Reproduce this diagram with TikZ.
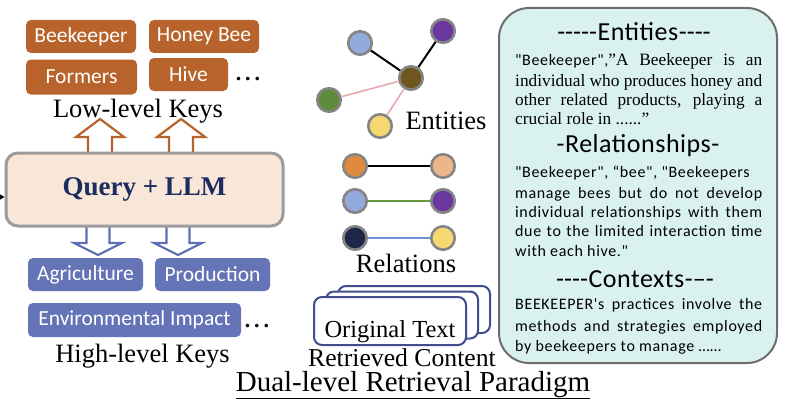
\documentclass[tikz,border=0pt]{standalone}
\usepackage{fontspec}
\setmainfont{Liberation Serif}
\newfontfamily\carl{Carlito}
\newfontfamily\carlsp[LetterSpace=4]{Carlito}
\newfontfamily\carlhd[LetterSpace=2]{Carlito}
\usetikzlibrary{arrows.meta}
\definecolor{rust}{HTML}{B8632B}
\definecolor{keyblue}{HTML}{6573B7}
\definecolor{arrblue}{HTML}{5E70B4}
\definecolor{qfill}{HTML}{F8E6D8}
\definecolor{qdraw}{HTML}{9B9B9B}
\definecolor{qtext}{HTML}{1C2C5E}
\definecolor{pfill}{HTML}{D9F1EF}
\definecolor{pdraw}{HTML}{6E6E6E}
\definecolor{paperb}{HTML}{3F4D8E}
\definecolor{ngray}{HTML}{858585}
\definecolor{clblue}{HTML}{93AADD}
\definecolor{cpurp}{HTML}{6A36A0}
\definecolor{cbrown}{HTML}{6F561F}
\definecolor{cgreen}{HTML}{5F8A3B}
\definecolor{cyel}{HTML}{F6D872}
\definecolor{corange}{HTML}{E08A3E}
\definecolor{cpeach}{HTML}{EDB68A}
\definecolor{cnavy}{HTML}{1F2748}
\definecolor{epink}{HTML}{E8A8AE}
\definecolor{egreen}{HTML}{6A9A3E}
\definecolor{eblue}{HTML}{6F91D8}
\newcommand\jl[1]{\makebox[247pt][s]{#1}}
\begin{document}
\begin{tikzpicture}[x=1pt,y=-1pt,
  okey/.style={fill=rust, rounded corners=5pt, text=white, inner sep=0pt,
    font=\carl\fontsize{21.5}{21.5}\selectfont, minimum height=33pt},
  bkey/.style={fill=keyblue, rounded corners=5pt, text=white, inner sep=0pt,
    font=\carl\fontsize{21.5}{21.5}\selectfont, minimum height=34pt},
  lbl/.style={anchor=base, inner sep=0pt, font=\fontsize{26.5}{26.5}\selectfont},
  dots/.style={anchor=base, inner sep=0pt, font=\bfseries\fontsize{22}{22}\selectfont},
  ent/.style={circle, draw=ngray, line width=2.6pt, minimum size=23.5pt, inner sep=0pt},
  uparr/.style={draw=rust, line width=2.2pt, fill=white, line join=miter},
  dnarr/.style={draw=arrblue, line width=2.2pt, fill=white, line join=miter},
  paper/.style={draw=paperb, line width=2pt, fill=white, rounded corners=8pt,
    minimum width=152pt, minimum height=47pt, inner sep=0pt},
  phead/.style={anchor=base, inner sep=0pt, font=\carlhd\fontsize{26}{26}\selectfont},
  ptext/.style={anchor=base west, inner sep=0pt, font=\carlsp\fontsize{16}{16}\selectfont},
  stext/.style={anchor=base west, inner sep=0pt, font=\fontsize{17.3}{17.3}\selectfont}
]
\useasboundingbox (0,0) rectangle (802,404);

% ---- block arrows
\foreach \c in {100,181} {
  \draw[uparr] (\c-12,152) -- (\c-12,137) -- (\c-24,137) -- (\c,119) -- (\c+24,137) -- (\c+12,137) -- (\c+12,152);
}
\foreach \c in {98,178} {
  \draw[dnarr] (\c-11.5,226) -- (\c-11.5,243) -- (\c-24,243) -- (\c,255) -- (\c+24,243) -- (\c+11.5,243) -- (\c+11.5,226);
}

% ---- Query box
\node[draw=qdraw, fill=qfill, line width=3pt, rounded corners=12pt,
      minimum width=277pt, minimum height=73pt, inner sep=0pt,
      text=qtext, font=\bfseries\fontsize{27}{27}\selectfont] (Q) at (144.5,189.5) {Query + LLM};
\coordinate (qin) at (-12,197);
\coordinate (qtip) at (4.5,197);
\draw[line width=1pt, -{Stealth[length=6pt,width=7pt]}] (qin) -- (qtip);

% ---- low-level keys
\node[okey, minimum width=110pt] (k1) at (81,36.5) {Beekeeper};
\node[okey, minimum width=110pt] (k2) at (204,36.5) {Honey Bee};
\node[okey, minimum width=111pt, minimum height=35pt] (k3) at (81.5,77) {Formers};
\node[okey, minimum width=79pt] (k4) at (188.5,74.5) {Hive};
\node[dots] (kd) at (248,80) {.\hspace{4pt}.\hspace{4pt}.};
\node[lbl] (ll) at (138,117) {Low-level Keys};

% ---- high-level keys
\node[bkey, minimum width=115pt, minimum height=33pt] (h1) at (85.5,274.5) {Agriculture};
\node[bkey, minimum width=115pt, minimum height=33pt] (h2) at (212.5,274.5) {Production};
\node[bkey, minimum width=213pt] (h3) at (134.5,320) {Environmental Impact};
\node[dots] (hd) at (257,327) {.\hspace{4pt}.\hspace{4pt}.};
\node[lbl] (hl) at (142.5,362) {High-level Keys};

% ---- entities graph
\node[ent, fill=cbrown] (g0) at (411,78) {};
\node[ent, fill=clblue] (g1) at (360,43) {};
\node[ent, fill=cpurp] (g2) at (443,31) {};
\node[ent, fill=cgreen] (g3) at (329,100) {};
\node[ent, fill=cyel] (g4) at (380,126) {};
\draw[line width=2pt] (g1) -- (g0);
\draw[line width=2pt] (g2) -- (g0);
\draw[line width=1.6pt, epink] (g0) -- (g3);
\draw[line width=1.6pt, epink] (g0) -- (g4);
\node[lbl] (el) at (446,129) {Entities};

% ---- relations
\node[ent, fill=corange] (r1a) at (355,166) {};
\node[ent, fill=cpeach] (r1b) at (443,166) {};
\node[ent, fill=clblue] (r2a) at (355,201) {};
\node[ent, fill=cpurp] (r2b) at (443,201) {};
\node[ent, fill=cnavy] (r3a) at (355,238) {};
\node[ent, fill=cyel] (r3b) at (443,238) {};
\draw[line width=2pt] (r1a) -- (r1b);
\draw[line width=2.2pt, egreen] (r2a) -- (r2b);
\draw[line width=2.2pt, eblue] (r3a) -- (r3b);
\node[lbl] (rl) at (406,272) {Relations};

% ---- original text stack
\node[paper] (p3) at (414,309.5) {};
\node[paper] (p2) at (402,315) {};
\node[paper, minimum height=48pt] (p1) at (390,321) {};
\node[lbl, font=\fontsize{24.5}{24.5}\selectfont] (ot) at (390,337) {Original Text};
\node[lbl, font=\fontsize{25.7}{25.7}\selectfont] (rc) at (402,366) {Retrieved Content};
\node[lbl, font=\fontsize{29}{29}\selectfont] (dl) at (413,391) {\underline{Dual-level Retrieval Paradigm}};

% ---- right panel
\node[draw=pdraw, fill=pfill, line width=2pt, rounded corners=30pt,
      minimum width=278pt, minimum height=355pt, inner sep=0pt] (panel) at (638,185.5) {};
\node[phead] (t0) at (634,41) {-\kern0pt-\kern0pt-\kern0pt-\kern0pt-Entities-\kern0pt-\kern0pt-\kern0pt-};
\node[stext] (e1) at (515,66) {\jl{{\carlsp\fontsize{16}{16}\selectfont "Beekeeper",}"A Beekeeper is an}};
\node[stext] (e2) at (515,86) {\jl{individual who produces honey and}};
\node[stext] (e3) at (515,105) {\jl{other related products, playing a}};
\node[stext] (e4) at (515,124) {crucial role in ......"};
\node[phead] (t1) at (638,152) {-Relationships-};
\node[ptext] (s1) at (515,177) {"Beekeeper", “bee", "Beekeepers};
\node[ptext] (s2) at (515,198) {\jl{manage bees but do not develop}};
\node[ptext] (s3) at (515,217) {\jl{individual relationships with them}};
\node[ptext] (s4) at (515,236) {\jl{due to the limited interaction time}};
\node[ptext] (s5) at (515,256) {with each hive."};
\node[phead] (t2) at (635,287) {-\kern0pt-\kern0pt-\kern0pt-Contexts-\kern0pt–\kern0pt-};
\node[ptext] (c1) at (515,309) {\jl{BEEKEEPER's practices involve the}};
\node[ptext] (c2) at (515,331) {\jl{methods and strategies employed}};
\node[ptext] (c3) at (515,351) {by beekeepers to manage ……};
\end{tikzpicture}
\end{document}
